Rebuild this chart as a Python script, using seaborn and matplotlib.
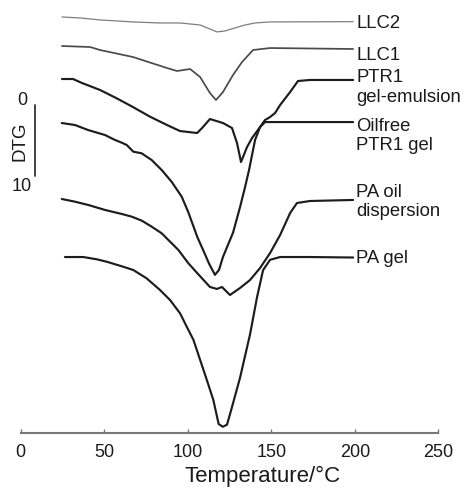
import numpy as np
import pandas as pd
import matplotlib
matplotlib.use("Agg")
import matplotlib.pyplot as plt
import seaborn as sns

# ---- data (temperature in °C, DTG depth below each curve's start, DTG units) ----
llc2_T = [24.7, 35.5, 47.5, 67.2, 83.4, 95.4, 107.4, 113.3, 117.5, 122.3, 128.3, 134.3, 140.3, 149.3, 199.0]
llc2_D = [0.0, 0.14, 0.43, 0.72, 0.87, 0.87, 1.16, 1.74, 2.17, 2.03, 1.59, 1.16, 0.87, 0.72, 0.68]

llc1_T = [24.7, 41.5, 47.5, 67.2, 87.6, 93.6, 101.4, 107.4, 113.3, 116.9, 121.1, 127.1, 132.5, 139.1, 149.3, 199.0]
llc1_D = [0.0, 0.14, 0.58, 1.59, 3.19, 3.62, 3.33, 4.49, 6.81, 7.83, 6.67, 4.20, 2.32, 0.58, 0.29, 0.43]

ptr1e_T = [24.7, 31.3, 36.7, 47.5, 57.5, 67.2, 77.4, 87.6, 95.4, 105.6, 108.6, 113.3, 121.1, 126.5, 129.5,
           131.9, 135.5, 138.5, 143.3, 146.3, 149.3, 152.3, 155.3, 161.3, 166.0, 173.2, 199.0]
ptr1e_D = [0.0, 0.0, 0.58, 1.59, 2.80, 4.06, 5.46, 6.67, 7.54, 7.83, 7.10, 5.80, 6.38, 7.10, 9.28,
           12.03, 9.86, 8.55, 6.96, 5.94, 5.51, 4.93, 3.77, 1.88, 0.29, 0.14, 0.14]

oilfree_T = [24.6, 32.5, 40.3, 50.5, 56.5, 60.5, 63.5, 67.4, 72.4, 78.4, 84.4, 90.4, 96.4, 100.3, 105.7,
             109.2, 112.8, 116.3, 118.7, 121.1, 127.1, 131.3, 134.3, 136.7, 140.3, 143.3, 146.3, 155.3, 199.0]
oilfree_D = [0.0, 0.29, 1.01, 1.74, 2.46, 2.85, 3.19, 4.15, 4.39, 5.36, 6.81, 8.53, 10.68, 12.9, 16.5,
             18.4, 20.4, 22.0, 21.3, 19.4, 15.9, 12.2, 9.3, 6.8, 2.46, 0.58, -0.14, -0.14, -0.14]

paoil_T = [24.6, 32.5, 40.5, 50.5, 60.5, 66.5, 72.5, 78.4, 84.4, 88.4, 94.4, 100.4, 105.6, 113.3, 117.5,
           120.5, 122.3, 125.3, 131.3, 137.3, 143.3, 149.3, 155.3, 161.3, 165.4, 173.2, 199.0]
paoil_D = [0.0, 0.39, 0.87, 1.59, 2.17, 2.56, 3.14, 4.01, 4.97, 5.94, 7.39, 9.32, 10.72, 12.75, 13.04,
           12.75, 13.19, 13.91, 12.90, 11.74, 10.0, 7.83, 5.22, 2.03, 0.58, 0.29, 0.14]

pagel_T = [26.5, 37.5, 45.5, 51.5, 61.4, 67.4, 75.4, 83.4, 89.4, 95.4, 99.4, 103.4, 107.4, 111.4, 115.3,
           118.5, 121.0, 123.5, 126.5, 131.3, 137.3, 141.5, 145.1, 149.3, 155.3, 173.2, 199.0]
pagel_D = [0.0, 0.0, 0.33, 0.68, 1.41, 1.88, 3.09, 4.78, 6.23, 8.16, 10.1, 12.0, 14.9, 17.8, 20.7,
           24.2, 24.6, 24.3, 21.74, 17.5, 11.2, 5.8, 1.9, 0.4, 0.0, 0.0, 0.07]

labels = ["LLC2", "LLC1", "PTR1\ngel-emulsion", "Oilfree\nPTR1 gel", "PA oil\ndispersion", "PA gel"]
x_ticks = [0, 50, 100, 150, 200, 250]

# ---- layout / style ----
PX = 6.9  # pixels per DTG unit
offsets = [2.46, 6.67, 11.45, 17.83, 28.84, 37.25]
label_baseline_px = [28.3, 60.0, 82.0, 130.7, 196.7, 263.3]
line_step_px = 19.5
label_x = 200.8
colors = ["#7d7d7d", "#4a4a4a", "#1c1c1c", "#1c1c1c", "#1c1c1c", "#1c1c1c"]
widths = [0.9, 1.25, 1.55, 1.55, 1.55, 1.55]

sns.set_theme(style="white")
plt.rcParams["font.family"] = ["Liberation Sans", "DejaVu Sans"]

fig = plt.figure(figsize=(4.65, 4.9), dpi=100)
ax = fig.add_axes([20.7 / 465, 57 / 490, (438.3 - 20.7) / 465, 433 / 490])

series = [(llc2_T, llc2_D), (llc1_T, llc1_D), (ptr1e_T, ptr1e_D),
          (oilfree_T, oilfree_D), (paoil_T, paoil_D), (pagel_T, pagel_D)]

for i, ((T, D), lab) in enumerate(zip(series, labels)):
    df = pd.DataFrame({"T": T, "DTG": np.array(D) + offsets[i]})
    sns.lineplot(data=df, x="T", y="DTG", ax=ax, color=colors[i], lw=widths[i],
                 estimator=None, sort=False, solid_joinstyle="round", solid_capstyle="round")
    for j, part in enumerate(lab.split("\n")):
        ax.text(label_x, (label_baseline_px[i] + j * line_step_px) / PX, part,
                ha="left", va="baseline", fontsize=13.3, color="#1a1a1a")

ax.set_xlim(0, 250)
ax.set_ylim(433 / PX, 0)
ax.set_xticks(x_ticks)
ax.set_xticklabels([str(t) for t in x_ticks])
ax.set_yticks([])
ax.set_ylabel("")
ax.set_xlabel("Temperature/°C", fontsize=16, color="#1a1a1a")
ax.xaxis.set_label_coords(0.58, -0.075)

for s in ["top", "right", "left"]:
    ax.spines[s].set_visible(False)
ax.spines["bottom"].set_color("#777777")
ax.spines["bottom"].set_linewidth(1.5)
ax.tick_params(axis="x", direction="in", length=3, width=1, color="#777777",
               labelsize=13, labelcolor="#1a1a1a", pad=8, bottom=True)

# DTG scale bar (0 to 10 DTG units)
ax.plot([8.6, 8.6], [15.2, 25.5], color="#333333", lw=1.3, clip_on=False)
ax.text(1.2, 14.6, "0", ha="center", va="center", fontsize=13, color="#1a1a1a", clip_on=False)
ax.text(0.8, 27.1, "10", ha="center", va="center", fontsize=13, color="#1a1a1a", clip_on=False)
ax.text(-0.2, 20.5, "DTG", ha="center", va="center", rotation=90, fontsize=13.5,
        color="#1a1a1a", clip_on=False)

fig.savefig("out.png", dpi=100)
